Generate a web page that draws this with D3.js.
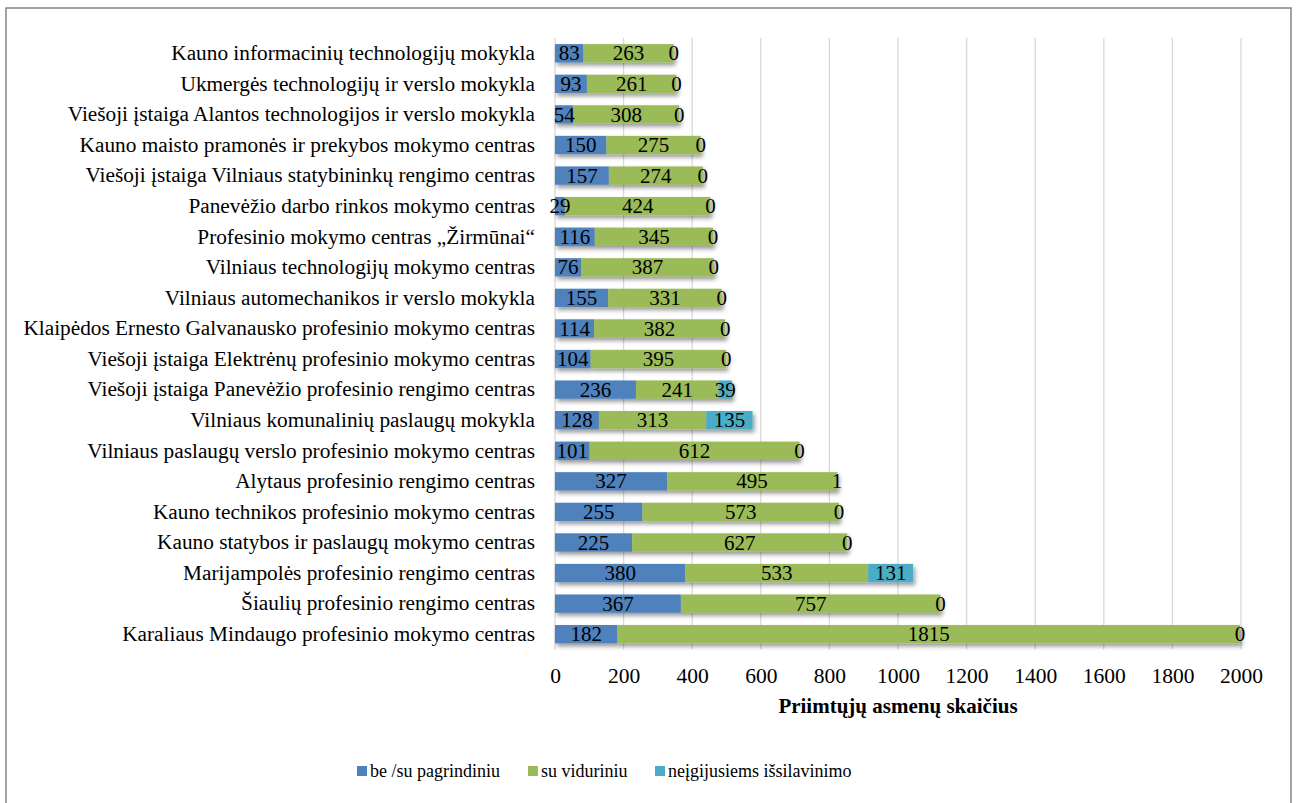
<!DOCTYPE html>
<html><head><meta charset="utf-8">
<script src="https://cdn.jsdelivr.net/npm/d3@7"></script>
<style>body{margin:0;background:#fff}svg{display:block}</style>
</head><body>
<svg id="c" width="1297" height="803"></svg>
<script>
const categories = [
"Kauno informacinių technologijų mokykla",
"Ukmergės technologijų ir verslo mokykla",
"Viešoji įstaiga Alantos technologijos ir verslo mokykla",
"Kauno maisto pramonės ir prekybos mokymo centras",
"Viešoji įstaiga Vilniaus statybininkų rengimo centras",
"Panevėžio darbo rinkos mokymo centras",
"Profesinio mokymo centras „Žirmūnai“",
"Vilniaus technologijų mokymo centras",
"Vilniaus automechanikos ir verslo mokykla",
"Klaipėdos Ernesto Galvanausko profesinio mokymo centras",
"Viešoji įstaiga Elektrėnų profesinio mokymo centras",
"Viešoji įstaiga Panevėžio profesinio rengimo centras",
"Vilniaus komunalinių paslaugų mokykla",
"Vilniaus paslaugų verslo profesinio mokymo centras",
"Alytaus profesinio rengimo centras",
"Kauno technikos profesinio mokymo centras",
"Kauno statybos ir paslaugų mokymo centras",
"Marijampolės profesinio rengimo centras",
"Šiaulių profesinio rengimo centras",
"Karaliaus Mindaugo profesinio mokymo centras"];
const bePagrindiniu = [83,93,54,150,157,29,116,76,155,114,104,236,128,101,327,255,225,380,367,182];
const suViduriniu = [263,261,308,275,274,424,345,387,331,382,395,241,313,612,495,573,627,533,757,1815];
const neigijusiems = [0,0,0,0,0,0,0,0,0,0,0,39,135,0,1,0,0,131,0,0];
const seriesNames = ["be /su pagrindiniu","su viduriniu","neįgijusiems išsilavinimo"];
const xTicks = [0,200,400,600,800,1000,1200,1400,1600,1800,2000];
const axisTitle = "Priimtųjų asmenų skaičius";
const colors = ["#4F81BD","#9BBB59","#4BACC6"];

(function(){
const FONT = "'Liberation Serif', 'Times New Roman', Times, serif";
const svg = d3.select("#c");
svg.append("rect").attr("x",6).attr("y",8).attr("width",1285).attr("height",800)
  .attr("fill","none").attr("stroke","#868686").attr("stroke-width",1.5);

const defs = svg.append("defs");
const f = defs.append("filter").attr("id","sh").attr("x","-10%").attr("y","-30%").attr("width","130%").attr("height","190%");
f.append("feDropShadow").attr("dx",2).attr("dy",3).attr("stdDeviation",2).attr("flood-color","#000").attr("flood-opacity",0.4);

const pLeft = 555, pRight = 1241, pTop = 38, pBottom = 649.5;
const x = d3.scaleLinear().domain([0,2000]).range([pLeft,pRight]);
const y = d3.scaleBand().domain(categories).range([pTop,pBottom]).paddingInner(0.4).paddingOuter(0.2);

svg.append("g").selectAll("line").data(xTicks).join("line")
  .attr("x1",d=>x(d)).attr("x2",d=>x(d)).attr("y1",pTop).attr("y2",pBottom)
  .attr("stroke","#d9d9d9").attr("stroke-width",1.3);

const data = categories.map((c,i)=>({cat:c, vals:[bePagrindiniu[i],suViduriniu[i],neigijusiems[i]]}));
const stack = d3.stack().keys([0,1,2]).value((d,k)=>d.vals[k]);
const layers = stack(data);

const bars = svg.append("g");
data.forEach((d,i)=>{
  const g = bars.append("g").attr("filter","url(#sh)");
  layers.forEach((L,k)=>{
    const s = L[i];
    g.append("rect").attr("x",x(s[0])).attr("y",y(d.cat)).attr("width",x(s[1])-x(s[0]))
      .attr("height",y.bandwidth()).attr("fill",colors[k]);
  });
});
const labels = svg.append("g");
layers.forEach((L,k)=>{
  labels.selectAll(null).data(L).join("text")
    .attr("x",s=>(x(s[0])+x(s[1]))/2)
    .attr("y",s=>y(s.data.cat)+y.bandwidth()/2)
    .attr("dy","0.34em").attr("text-anchor","middle")
    .style("font-family",FONT).style("font-size","21px").style("fill","#000")
    .text(s=>s.data.vals[k]);
});

const ax = d3.axisLeft(y).tickSize(0).tickPadding(20);
const gy = svg.append("g").attr("transform",`translate(${pLeft},0)`).call(ax);
gy.select(".domain").remove();
gy.selectAll("text").style("font-family",FONT).style("font-size","21.3px").style("fill","#000");

const axb = d3.axisBottom(x).tickValues(xTicks).tickSize(0).tickPadding(18).tickFormat(d3.format("d"));
const gx = svg.append("g").attr("transform",`translate(0,${pBottom})`).call(axb);
gx.select(".domain").remove();
gx.selectAll("text").style("font-family",FONT).style("font-size","21.5px").style("fill","#000");

svg.append("text").attr("x",898).attr("y",713).attr("text-anchor","middle")
  .style("font-family",FONT).style("font-size","21px").style("font-weight","bold").text(axisTitle);

const legX = [357,528,655];
const leg = svg.append("g");
seriesNames.forEach((n,k)=>{
  leg.append("rect").attr("x",legX[k]).attr("y",766).attr("width",10).attr("height",10).attr("fill",colors[k]);
  leg.append("text").attr("x",legX[k]+13).attr("y",771).attr("dy","0.34em")
    .style("font-family",FONT).style("font-size","18px").text(n);
});
})();
</script>
</body></html>
